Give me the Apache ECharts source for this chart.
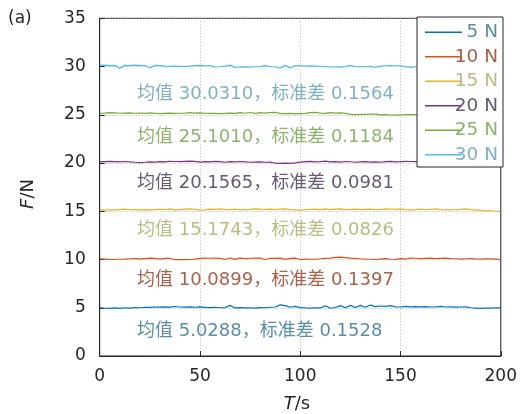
<!DOCTYPE html>
<html>
<head>
<meta charset="utf-8">
<script src="https://cdn.jsdelivr.net/npm/echarts@6/dist/echarts.min.js"></script>
<style>html,body{margin:0;padding:0;background:#fff}#c{width:520px;height:414px}</style>
</head>
<body>
<div id="c"></div>
<script>
const times = [0,2.5,5,7.5,10,12.5,15,17.5,20,22.5,25,27.5,30,32.5,35,37.5,40,42.5,45,47.5,50,52.5,55,57.5,60,62.5,65,67.5,70,72.5,75,77.5,80,82.5,85,87.5,90,92.5,95,97.5,100,102.5,105,107.5,110,112.5,115,117.5,120,122.5,125,127.5,130,132.5,135,137.5,140,142.5,145,147.5,150,152.5,155,157.5,160,162.5,165,167.5,170,172.5,175,177.5,180,182.5,185,187.5,190,192.5,195,197.5,200];
const seriesNames = ['5 N','10 N','15 N','20 N','25 N','30 N'];
const f5 = [5.02,4.95,4.93,4.98,4.94,5.00,4.96,5.02,5.00,5.05,
 5.04,5.08,5.06,5.10,5.06,5.13,5.08,5.06,5.09,5.05,
 5.10,5.04,5.02,5.05,5.00,5.02,5.25,4.98,5.02,4.98,
 5.00,4.96,5.02,5.00,5.05,5.08,5.30,5.22,5.05,5.15,
 5.02,4.98,4.96,5.00,4.98,5.20,4.95,5.02,5.22,5.00,
 5.25,5.02,5.25,5.05,5.28,5.12,5.18,5.15,5.22,5.10,
 5.08,5.14,5.10,5.12,5.10,5.12,5.08,5.10,5.14,5.08,
 5.10,5.06,5.08,5.10,5.00,4.97,4.94,4.97,4.96,4.98,
 4.99];
const f10 = [10.08,10.05,10.02,10.00,10.03,10.05,10.08,10.10,10.06,10.10,
 10.14,10.12,10.05,10.12,10.13,9.98,10.00,9.98,10.00,10.05,
 10.12,10.14,10.13,10.15,10.12,10.00,10.16,10.02,10.15,10.10,
 10.13,10.15,10.14,10.00,10.13,10.12,10.15,10.02,10.12,10.15,
 10.00,10.05,10.03,10.05,10.08,10.12,10.15,10.22,10.25,10.20,
 10.15,10.12,10.08,10.05,10.03,10.00,10.05,10.10,10.03,10.00,
 10.10,10.05,10.14,10.13,10.10,10.12,10.14,10.10,10.12,10.14,
 10.10,10.08,10.05,10.08,10.10,10.06,10.05,10.08,10.06,10.04,
 10.00];
const f15 = [15.15,15.12,15.16,15.14,15.18,15.22,15.16,15.18,15.15,15.17,
 15.14,15.18,15.22,15.16,15.24,15.12,15.18,15.22,15.24,15.20,
 15.12,15.15,15.22,15.20,15.24,15.20,15.18,15.22,15.15,15.18,
 15.20,15.25,15.22,15.20,15.22,15.18,15.22,15.24,15.18,15.15,
 15.12,15.16,15.20,15.22,15.18,15.25,15.18,15.22,15.24,15.18,
 15.20,15.22,15.18,15.20,15.22,15.18,15.20,15.24,15.22,15.20,
 15.25,15.18,15.15,15.18,15.22,15.16,15.20,15.24,15.18,15.15,
 15.18,15.16,15.20,15.25,15.18,15.14,15.10,15.05,15.08,15.00,
 14.95];
const f20 = [20.12,20.15,20.18,20.15,20.12,20.16,20.12,20.08,20.05,20.08,
 20.12,20.10,20.15,20.12,20.18,20.16,20.14,20.18,20.20,20.18,
 20.10,20.15,20.12,20.18,20.14,20.08,20.15,20.12,20.16,20.12,
 20.08,20.10,20.12,20.08,20.10,19.98,19.96,19.98,19.97,20.02,
 20.10,20.15,20.18,20.12,20.15,20.20,20.12,20.15,20.10,20.16,
 20.13,20.08,20.12,20.15,20.10,20.12,20.08,20.15,20.18,20.12,
 20.14,20.18,20.16,20.15,20.15,20.12,20.14,20.16,20.12,20.15,
 20.18,20.14,20.12,20.15,20.16,20.13,20.15,20.12,20.14,20.15,
 20.13];
const f25 = [25.15,25.18,25.22,25.20,25.16,25.18,25.20,25.16,25.18,25.14,
 25.20,25.16,25.12,25.15,25.18,25.14,25.16,25.18,25.22,25.18,
 25.20,25.16,25.14,25.16,25.12,25.14,25.18,25.15,25.22,25.16,
 25.24,25.15,25.22,25.18,25.22,25.25,25.15,25.12,25.14,25.10,
 25.12,25.14,25.22,25.25,25.18,25.14,25.22,25.18,25.20,25.15,
 25.05,25.02,25.05,25.04,25.08,25.06,25.00,25.02,24.98,24.96,
 25.00,25.02,25.02,25.03,25.02,25.04,25.03,25.02,25.04,25.03,
 25.02,25.03,25.04,25.02,25.03,25.02,25.04,25.03,25.02,25.03,
 25.02];
const f30 = [30.12,30.14,30.10,30.12,29.80,30.12,30.10,30.14,30.12,30.10,
 29.85,30.12,30.10,30.05,30.02,30.04,30.02,30.00,30.05,30.10,
 30.12,30.08,30.10,29.95,29.98,30.05,30.15,29.90,29.95,29.96,
 29.95,29.98,30.00,30.10,30.00,29.98,29.82,30.12,29.85,30.10,
 30.08,30.05,30.06,30.04,30.02,30.00,29.95,29.97,29.94,30.00,
 30.12,29.98,30.00,29.98,30.02,29.90,30.05,30.08,30.10,30.08,
 30.06,30.00,29.92,29.98,29.98,29.97,29.98,29.99,29.98,29.97,
 29.98,29.99,29.98,29.97,29.98,29.99,29.98,29.97,29.98,29.99,
 29.98];
const seriesValues = [f5, f10, f15, f20, f25, f30];
const lineColors = ['#0072BD','#D95319','#EDB120','#7E2F8E','#77AC30','#4DBEEE'];
const textColors = ['#5a8ea3','#a8624a','#bcbb82','#655a72','#8db36e','#7fb1c2'];
const annotations = ['均值 5.0288，标准差 0.1528','均值 10.0899，标准差 0.1397','均值 15.1743，标准差 0.0826',
  '均值 20.1565，标准差 0.0981','均值 25.1010，标准差 0.1184','均值 30.0310，标准差 0.1564'];
const xTicks = [0,50,100,150,200];
const yTicks = [0,5,10,15,20,25,30,35];

const FONT = '"DejaVu Sans", "Noto Sans CJK SC", sans-serif';
const annY = [331.5, 280, 230.5, 183.5, 137, 94];

const chart = echarts.init(document.getElementById('c'), null, {renderer:'canvas'});
const rich = {};
seriesNames.forEach((n,i)=>{ rich['c'+i] = {color:textColors[i], fontSize:18.5, fontFamily:FONT, width:31, align:'right', lineHeight:20}; });

const option = {
  animation:false,
  backgroundColor:'#fff',
  grid:{left:99.7, right:17, top:18.3, bottom:58, show:true, borderColor:'#262626', borderWidth:1, backgroundColor:'transparent'},
  xAxis:{type:'value', min:xTicks[0], max:xTicks[xTicks.length-1], interval:50,
    axisLine:{show:true, lineStyle:{color:'#262626', width:1}},
    axisTick:{show:true, inside:true, length:5, lineStyle:{color:'#262626'}},
    axisLabel:{color:'#262626', fontSize:17, fontFamily:FONT, margin:12},
    splitLine:{show:true, lineStyle:{color:'#a6a6a6', type:[1,2], width:0.8}}},
  yAxis:{type:'value', min:yTicks[0], max:yTicks[yTicks.length-1], interval:5,
    axisLine:{show:true, lineStyle:{color:'#262626', width:1}},
    axisTick:{show:true, inside:true, length:5, lineStyle:{color:'#262626'}},
    axisLabel:{color:'#262626', fontSize:17, fontFamily:FONT, margin:14},
    splitLine:{show:true, lineStyle:{color:'#a6a6a6', type:[1,2], width:0.8}}},
  legend:{orient:'vertical', left:417, top:17, padding:[6,5,3,8], itemGap:6,
    icon:'rect', itemWidth:37, itemHeight:1.3, backgroundColor:'#fff', borderColor:'#262626', borderWidth:1, borderRadius:0,
    data:seriesNames,
    formatter:(name)=>'{c'+seriesNames.indexOf(name)+'|'+name+'}',
    textStyle:{rich:rich, fontFamily:FONT, fontSize:18.5}},
  series:seriesNames.map((n,i)=>({name:n, type:'line', symbol:'none', showSymbol:false,
    lineStyle:{color:lineColors[i], width:1.2}, itemStyle:{color:lineColors[i]},
    data:times.map((t,j)=>[t, seriesValues[i][j]])})),
  graphic:[
    {type:'text', left:8, top:10, style:{text:'(a)', font:'17px '+FONT, fill:'#262626'}},
    {type:'text', x:28, y:194, rotation:Math.PI/2, style:{text:'{i|F}/N', align:'center', verticalAlign:'middle',
      font:'18px '+FONT, fill:'#262626', rich:{i:{fontStyle:'italic', fontSize:18, fontFamily:FONT, fill:'#262626'}}}},
    {type:'text', x:297, y:404, style:{text:'{i|T}/s', align:'center', verticalAlign:'middle',
      font:'18px '+FONT, fill:'#262626', rich:{i:{fontStyle:'italic', fontSize:18, fontFamily:FONT, fill:'#262626'}}}}
  ].concat(annotations.map((a,i)=>({type:'text', x:137, y:annY[i], z:10,
      style:{text:a, verticalAlign:'middle', font:'18px '+FONT, fill:textColors[i]}})))
};
chart.setOption(option);
</script>
</body>
</html>
